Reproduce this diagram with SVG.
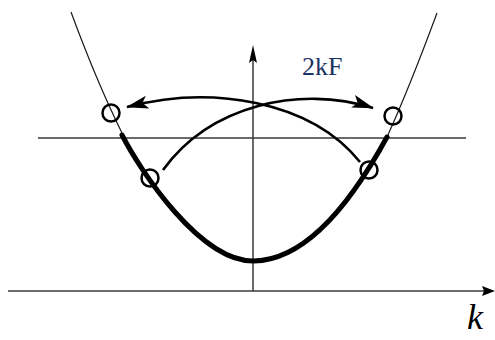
<svg xmlns="http://www.w3.org/2000/svg" width="495" height="340" viewBox="0 0 495 340">
<style>
.axis{stroke:#3a3a3a;stroke-width:1.5;fill:none}
.thin{stroke:#1a1a1a;stroke-width:1.2;fill:none}
.thick{stroke:#000;stroke-width:5;fill:none;stroke-linecap:round}
.arc{stroke:#000;stroke-width:2.6;fill:none}
.pt{stroke:#000;stroke-width:2.5;fill:none}
.lbl{font-family:"Liberation Serif","DejaVu Serif",serif}
</style>
<defs>
<marker id="ah" markerUnits="userSpaceOnUse" markerWidth="22" markerHeight="14" viewBox="0 0 22 14" refX="21" refY="7" orient="auto">
<path d="M0,0 L22,7 L0,13 L5,7 z" fill="#000"/>
</marker>
</defs>
<rect width="495" height="340" fill="#fff"/>
<g id="axes">
<line class="axis" x1="8" y1="291" x2="486" y2="291"/>
<polygon points="495,291 482,286 484,291 482,296" fill="#000"/>
<line class="axis" x1="253" y1="291" x2="253" y2="55"/>
<polygon points="253,45 249,63 253,60 257,63" fill="#000"/>
<line class="axis" x1="38" y1="138" x2="466" y2="138"/>
</g>
<g id="band">
<path class="thin" d="M71,12 Q96.7,81.7 122,133"/>
<path class="thin" d="M387,137 Q409,88.6 437,13"/>
<path class="thick" d="M122,135 C140,170 200,262 254,261 C305,260 350,205 387,137"/>
</g>
<g id="connectors">
<path class="arc" d="M360,162 C310,100 210,85 127,107" marker-end="url(#ah)"/>
<path class="arc" d="M163,170 C210,105 300,85 373,108" marker-end="url(#ah)"/>
</g>
<g id="p1"><circle class="pt" cx="111" cy="113" r="8.5"/></g>
<g id="p2"><circle class="pt" cx="150" cy="178" r="8.5"/></g>
<g id="p3"><circle class="pt" cx="369" cy="170" r="8.5"/></g>
<g id="p4"><circle class="pt" cx="393" cy="116" r="8.5"/></g>
<g id="labels">
<text class="lbl" x="467" y="329" font-size="36" font-style="italic" fill="#000">k</text>
<text class="lbl" x="302" y="75" font-size="26" fill="#1c3461">2kF</text>
</g>
</svg>
